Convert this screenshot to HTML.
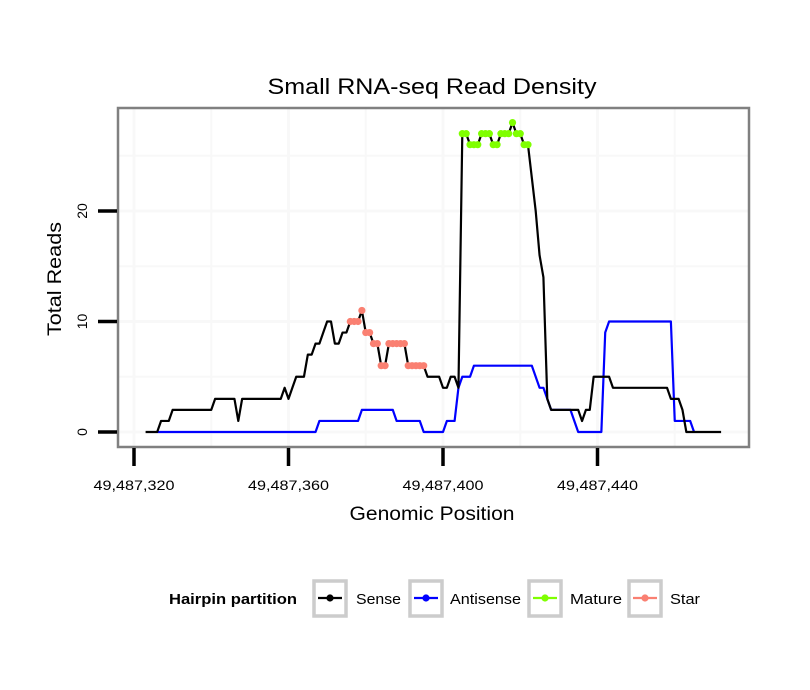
<!DOCTYPE html>
<html><head><meta charset="utf-8"><style>
body{margin:0;background:#fff;}
svg{display:block;font-family:"Liberation Sans",sans-serif;}
</style></head><body>
<svg id="chart" width="810" height="690">
<text x="432" y="94" font-size="22" text-anchor="middle" textLength="329" lengthAdjust="spacingAndGlyphs">Small RNA-seq Read Density</text>
<rect x="118" y="108" width="631" height="339" fill="#fff"/>
<g id="grid"></g>
<g id="series"></g>
<rect x="118" y="108" width="631" height="339" fill="none" stroke="#808080" stroke-width="2.5"/>
<g id="axes"></g>
<text x="432" y="520" font-size="19" text-anchor="middle" textLength="165" lengthAdjust="spacingAndGlyphs">Genomic Position</text>
<text transform="translate(61,279) rotate(-90)" font-size="19" text-anchor="middle" textLength="114" lengthAdjust="spacingAndGlyphs">Total Reads</text>
<g>
<text x="169" y="604" font-size="15" font-weight="bold" textLength="128" lengthAdjust="spacingAndGlyphs">Hairpin partition</text>
<g>
<rect x="314" y="581" width="32" height="35" fill="#fff" stroke="#ccc" stroke-width="3.5"/>
<line x1="318" y1="598" x2="342" y2="598" stroke="#000" stroke-width="2.2"/><circle cx="330" cy="598" r="3.6" fill="#000"/>
<text x="356" y="604" font-size="15" textLength="45" lengthAdjust="spacingAndGlyphs">Sense</text></g>
<g>
<rect x="410" y="581" width="32" height="35" fill="#fff" stroke="#ccc" stroke-width="3.5"/>
<line x1="414" y1="598" x2="438" y2="598" stroke="#0000ff" stroke-width="2.2"/><circle cx="426" cy="598" r="3.6" fill="#0000ff"/>
<text x="450" y="604" font-size="15" textLength="71" lengthAdjust="spacingAndGlyphs">Antisense</text></g>
<g>
<rect x="529" y="581" width="32" height="35" fill="#fff" stroke="#ccc" stroke-width="3.5"/>
<line x1="533" y1="598" x2="557" y2="598" stroke="#7fff00" stroke-width="2.2"/><circle cx="545" cy="598" r="3.6" fill="#7fff00"/>
<text x="570" y="604" font-size="15" textLength="52" lengthAdjust="spacingAndGlyphs">Mature</text></g>
<g>
<rect x="629" y="581" width="32" height="35" fill="#fff" stroke="#ccc" stroke-width="3.5"/>
<line x1="633" y1="598" x2="657" y2="598" stroke="#fa8072" stroke-width="2.2"/><circle cx="645" cy="598" r="3.6" fill="#fa8072"/>
<text x="670" y="604" font-size="15" textLength="30" lengthAdjust="spacingAndGlyphs">Star</text></g>
</g>
</svg>
<script>
const senseStart = 49487323;
const senseValues = [0,0,0,0,1,1,1,2,2,2,2,2,2,2,2,2,2,2,3,3,3,3,3,3,1,3,3,3,3,3,3,3,3,3,3,3,4,3,4,5,5,5,7,7,8,8,9,10,10,8,8,9,9,10,10,10,11,9,9,8,8,6,6,8,8,8,8,8,6,6,6,6,6,5,5,5,5,4,4,5,5,4,27,27,26,26,26,27,27,27,26,26,27,27,27,28,27,27,26,26,23,20,16,14,3,2,2,2,2,2,2,2,2,1,2,2,5,5,5,5,5,4,4,4,4,4,4,4,4,4,4,4,4,4,4,4,3,3,3,2,0,0,0,0,0,0,0,0,0,0];
const antiStart = 49487326;
const antiValues = [0,0,0,0,0,0,0,0,0,0,0,0,0,0,0,0,0,0,0,0,0,0,0,0,0,0,0,0,0,0,0,0,0,0,0,0,0,0,0,0,0,0,1,1,1,1,1,1,1,1,1,1,1,2,2,2,2,2,2,2,2,2,1,1,1,1,1,1,1,0,0,0,0,0,0,1,1,1,4,5,5,5,6,6,6,6,6,6,6,6,6,6,6,6,6,6,6,6,5,4,4,3,2,2,2,2,2,2,1,0,0,0,0,0,0,0,9,10,10,10,10,10,10,10,10,10,10,10,10,10,10,10,10,10,1,1,1,1,1,0];
const starStart = 49487376;
const starValues = [10,10,10,11,9,9,8,8,6,6,8,8,8,8,8,6,6,6,6,6];
const matureStart = 49487405;
const matureValues = [27,27,26,26,26,27,27,27,26,26,27,27,27,28,27,27,26,26];
const xTicks = [49487320,49487360,49487400,49487440];
const yTicks = [0,10,20];
const yMinor = [5,15,25];
const xMinor = [49487340,49487380,49487420,49487460];

const NS="http://www.w3.org/2000/svg";
function X(p){return 134+(p-49487320)*3.8625;}
function Y(v){return 432-v*11.05;}
function mk(tag,attrs,parent){const e=document.createElementNS(NS,tag);for(const k in attrs)e.setAttribute(k,attrs[k]);parent.appendChild(e);return e;}
const grid=document.getElementById('grid'),series=document.getElementById('series'),axes=document.getElementById('axes');
yMinor.concat(yTicks).forEach(v=>{const l=mk('line',{x1:118,x2:749,y1:Y(v),y2:Y(v),stroke:'#f8f8f8','stroke-width':yTicks.includes(v)?3:2},grid);

});
xMinor.concat(xTicks).forEach(p=>{const l=mk('line',{x1:X(p),x2:X(p),y1:108,y2:447,stroke:'#f8f8f8','stroke-width':xTicks.includes(p)?3:2},grid);

});
function path(start,vals,color,name){const d=vals.map((v,i)=>(i?'L':'M')+X(start+i).toFixed(2)+','+Y(v).toFixed(2)).join('');
const p=mk('path',{d:d,fill:'none',stroke:color,'stroke-width':2.2,'stroke-linejoin':'round'},series);

}
function pts(start,vals,color,name){vals.forEach((v,i)=>{const c=mk('circle',{cx:X(start+i),cy:Y(v),r:3.6,fill:color},series);

});}
path(antiStart,antiValues,'#0000ff','antisense-line');
path(senseStart,senseValues,'#000','sense-line');
pts(starStart,starValues,'#fa8072','star-point');
pts(matureStart,matureValues,'#7fff00','mature-point');
yTicks.forEach(v=>{const l=mk('line',{x1:98,x2:117,y1:Y(v),y2:Y(v),stroke:'#000','stroke-width':3.5},axes);


const t=mk('text',{transform:`translate(87,${Y(v)}) rotate(-90)`,'font-size':14,'text-anchor':'middle'},axes);t.textContent=v;

});
xTicks.forEach(p=>{const l=mk('line',{x1:X(p),x2:X(p),y1:448,y2:466,stroke:'#000','stroke-width':3.5},axes);


const t=mk('text',{x:X(p),y:490,'font-size':14,'text-anchor':'middle',textLength:81,lengthAdjust:'spacingAndGlyphs'},axes);t.textContent=p.toLocaleString('en-US');

});
</script>
</body></html>
